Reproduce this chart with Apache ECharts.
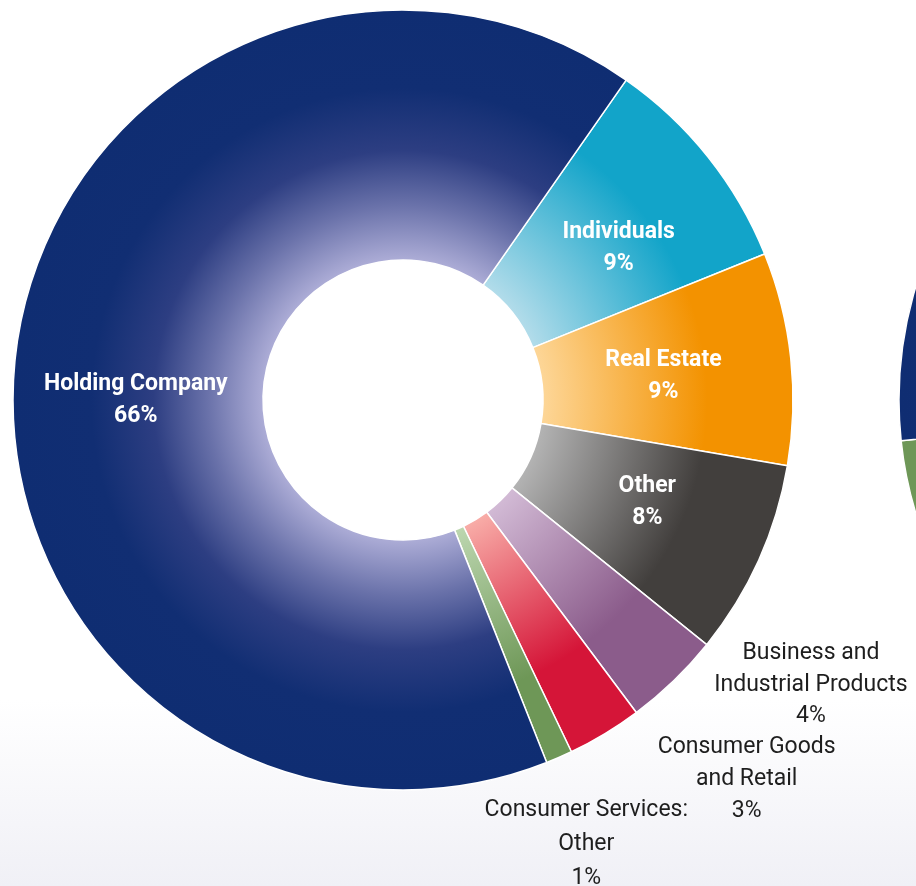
<!DOCTYPE html>
<html>
<head>
<meta charset="utf-8">
<script src="https://cdn.jsdelivr.net/npm/echarts@6/dist/echarts.min.js"></script>
<style>
html,body{margin:0;padding:0;}
body{width:916px;height:886px;background:linear-gradient(to bottom,#ffffff 0px,#ffffff 700px,#f0f0f6 886px);}
#chart{width:916px;height:886px;}
</style>
</head>
<body>
<div id="chart"></div>
<script>
// Data (clockwise order starting from top-right)
const categories = ['Individuals','Real Estate','Other','Business and\nIndustrial Products','Consumer Goods\nand Retail','Consumer Services:\nOther','Holding Company'];
const values = [9.2, 8.8, 8.1, 4.0, 3.1, 1.1, 65.7];
const percentLabels = ['9%','9%','8%','4%','3%','1%','66%'];
// second (only partially visible) donut at the right edge – estimated
const values2 = [9, 9, 8, 4, 3, 4, 63];

const innerColors = ['#b2dcea','#fdd697','#b3b3b3','#d2bad5','#f8aca7','#bcd6af','#acacd6'];
const outerColors = ['#12a4c9','#f39200','#423f3d','#8b5c8b','#d51538','#6e9757','#0f2d72'];
const insideIdx = [true,true,true,false,false,false,true];
const labelOffsets = [[6,15],[-6,5],[0,-8],[222,92],[205,150],[76,199],[-1,31]];
const labelLineHeights = [32,32,32,31.5,32,34,32];

const chart = echarts.init(document.getElementById('chart'), null, {renderer:'canvas'});
const cx = 403, cy = 400, R = 390;
const cx2 = 1289;

function grad(i, x0){
  const stops = i === 6 ? [
    {offset:0.0,color:'#c0c0e2'},
    {offset:0.36,color:innerColors[i]},
    {offset:0.5,color:'#6a72aa'},
    {offset:0.64,color:'#2d3e82'},
    {offset:0.8,color:'#112e73'},
    {offset:1,color:outerColors[i]}
  ] : [
    {offset:0.0,color:innerColors[i]},
    {offset:0.36,color:innerColors[i]},
    {offset:0.78,color:outerColors[i]},
    {offset:1,color:outerColors[i]}
  ];
  return {type:'radial', x:x0, y:cy, r:R, global:true, colorStops:stops};
}

const data1 = categories.map((c,i)=>({
  name:c, value:values[i],
  itemStyle:{color:grad(i,cx)},
  label: insideIdx[i] ? {
    formatter: c + '\n' + percentLabels[i],
    color:'#ffffff', fontWeight:'bold', fontSize:23, lineHeight:labelLineHeights[i],
    offset: labelOffsets[i]
  } : {
    formatter: c + '\n' + percentLabels[i],
    color:'#1e1e1e', fontWeight:'normal', fontSize:23, lineHeight:labelLineHeights[i],
    offset: labelOffsets[i]
  }
}));
const data2 = categories.map((c,i)=>({
  name:c, value:values2[i],
  itemStyle:{color:grad(i,cx2)}
}));

chart.setOption({
  backgroundColor:'transparent',
  animation:false,
  series:[{
    type:'pie',
    center:[cx,cy],
    radius:[140,R],
    startAngle:55.1,
    clockwise:true,
    avoidLabelOverlap:false,
    label:{show:true, position:'inside', fontFamily:'Roboto', align:'center'},
    labelLine:{show:false},
    labelLayout:{hideOverlap:false, moveOverlap:null},
    itemStyle:{borderColor:'#ffffff', borderWidth:1.5},
    emphasis:{disabled:true},
    data:data1
  },{
    type:'pie',
    center:[cx2,cy],
    radius:[140,R],
    startAngle:-40.8,
    clockwise:true,
    label:{show:false},
    labelLine:{show:false},
    itemStyle:{borderColor:'#ffffff', borderWidth:1.5},
    emphasis:{disabled:true},
    silent:true,
    data:data2
  }]
});
</script>
</body>
</html>
